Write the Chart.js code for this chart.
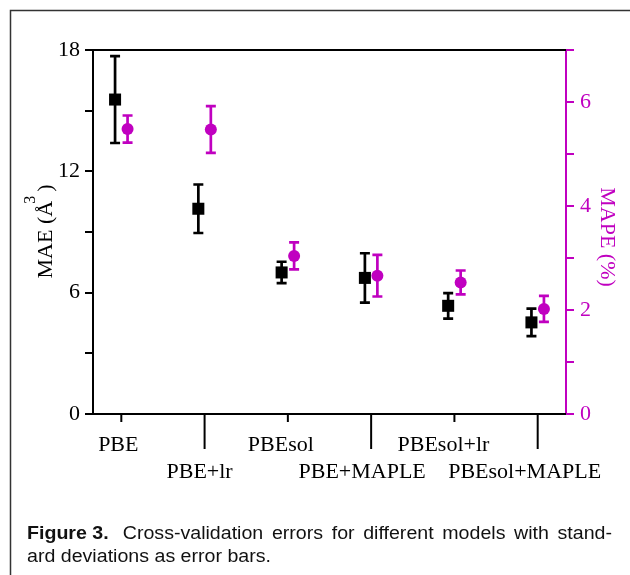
<!DOCTYPE html>
<html>
<head>
<meta charset="utf-8">
<script src="https://cdn.jsdelivr.net/npm/chart.js@4/dist/chart.umd.min.js"></script>
<style>
  html, body { margin: 0; padding: 0; background: #fff; }
  #wrap { width: 630px; height: 575px; }
</style>
</head>
<body>
<div id="wrap"><canvas id="myChart" width="630" height="575"></canvas></div>
<script>
// values
var models = ['PBE', 'PBE+lr', 'PBEsol', 'PBE+MAPLE', 'PBEsol+lr', 'PBEsol+MAPLE'];
var mae = [15.55, 10.15, 7.0, 6.73, 5.35, 4.53];
var maeSd = [2.15, 1.2, 0.53, 1.22, 0.63, 0.68];
var mape = [5.48, 5.47, 3.04, 2.66, 2.53, 2.02];
var mapeSd = [0.26, 0.45, 0.26, 0.40, 0.23, 0.25];
var maeTicks = [0, 6, 12, 18];
var mapeTicks = [0, 2, 4, 6];

var MAGENTA = 'rgb(192,0,192)';
var SERIF = '"Liberation Serif", "Times New Roman", serif';
var SANS = '"Liberation Sans", Arial, sans-serif';
var shift = 0.075; // side-by-side offset of the two series

var errorBars = {
  id: 'errorBars',
  afterDatasetDraw: function (chart, args) {
    var ds = chart.data.datasets[args.index];
    var xs = chart.scales.x, ys = chart.scales[ds.yAxisID];
    var ctx = chart.ctx;
    ctx.save();
    ctx.strokeStyle = ds.borderColor;
    ctx.lineWidth = 2.7;
    ds.data.forEach(function (p, i) {
      var x = xs.getPixelForValue(p.x);
      var top = ys.getPixelForValue(p.y + ds.err[i]);
      var bot = ys.getPixelForValue(p.y - ds.err[i]);
      ctx.beginPath();
      ctx.moveTo(x, top); ctx.lineTo(x, bot);
      ctx.moveTo(x - 5, top); ctx.lineTo(x + 5, top);
      ctx.moveTo(x - 5, bot); ctx.lineTo(x + 5, bot);
      ctx.stroke();
    });
    ctx.restore();
  }
};

// justified caption line, slightly widened glyphs like the original print
function captionLine(ctx, parts, x, y, right, sx) {
  ctx.save();
  ctx.translate(x, y);
  ctx.scale(sx, 1);
  var words = [];
  parts.forEach(function (p) {
    if (p.keep) { words.push({ w: p.text, font: p.font, lead: true }); return; }
    p.text.split(' ').forEach(function (w) { if (w) words.push({ w: w, font: p.font }); });
  });
  var total = 0;
  words.forEach(function (o) { ctx.font = o.font; o.width = ctx.measureText(o.w).width; total += o.width; });
  ctx.font = words[words.length - 1].font;
  var space = ctx.measureText(' ').width;
  var gap = space;
  if (right) {
    // the lead gets a double space, the rest share what is left
    gap = ((right - x) / sx - total - space) / (words.length - 1);
  }
  var cx = 0;
  words.forEach(function (o) {
    ctx.font = o.font;
    ctx.fillText(o.w, cx, 0);
    cx += o.width + gap + (o.lead ? space : 0);
  });
  ctx.restore();
}

var decor = {
  id: 'decor',
  beforeDraw: function (chart) {
    var ctx = chart.ctx;
    ctx.save();
    ctx.fillStyle = '#fff';
    ctx.fillRect(0, 0, chart.width, chart.height);
    // figure frame
    ctx.strokeStyle = '#333';
    ctx.lineWidth = 1.5;
    ctx.strokeRect(10.5, 10.5, 800, 800);
    ctx.restore();
  },
  afterDraw: function (chart) {
    var ctx = chart.ctx, a = chart.chartArea, xs = chart.scales.x;
    ctx.save();
    ctx.strokeStyle = '#000';
    ctx.lineWidth = 2;
    // top frame line and x axis
    ctx.beginPath();
    ctx.moveTo(a.left, a.top); ctx.lineTo(a.right, a.top);
    ctx.moveTo(a.left - 8, a.bottom); ctx.lineTo(a.right, a.bottom);
    ctx.stroke();
    // category ticks, alternating short / long, staggered labels
    ctx.font = '22px ' + SERIF;
    ctx.fillStyle = '#000';
    ctx.textAlign = 'center';
    ctx.textBaseline = 'alphabetic';
    models.forEach(function (m, i) {
      var x = xs.getPixelForValue(i + 1);
      var odd = i % 2 === 1;
      ctx.beginPath();
      ctx.moveTo(x, a.bottom);
      ctx.lineTo(x, a.bottom + (odd ? 35 : 8));
      ctx.stroke();
      ctx.fillText(m, x - 3 - 2 * i, a.bottom + (odd ? 64 : 37));
    });
    // left title: MAE (Å^3)
    ctx.save();
    ctx.translate(52, (a.top + a.bottom) / 2);
    ctx.rotate(-Math.PI / 2);
    ctx.textAlign = 'left';
    var t1 = 'MAE (Å', t2 = '3', t3 = ')';
    ctx.font = '22px ' + SERIF;
    var w1 = ctx.measureText(t1).width, w3 = ctx.measureText(t3).width;
    ctx.font = '16px ' + SERIF;
    var w2 = ctx.measureText(t2).width;
    var x0 = -(w1 + w2 + w3) / 2;
    ctx.font = '22px ' + SERIF;
    ctx.fillText(t1, x0, 0);
    ctx.font = '16px ' + SERIF;
    ctx.fillText(t2, x0 + w1 - 3, -17);
    ctx.font = '22px ' + SERIF;
    ctx.fillText(t3, x0 + w1 + w2 + 1, 0);
    ctx.restore();
    // right title
    ctx.save();
    ctx.translate(601, (a.top + a.bottom) / 2 + 5);
    ctx.rotate(Math.PI / 2);
    ctx.fillStyle = MAGENTA;
    ctx.textAlign = 'center';
    ctx.font = '22px ' + SERIF;
    ctx.fillText('MAPE (%)', 0, 0);
    ctx.restore();
    // caption
    ctx.fillStyle = '#111';
    ctx.textAlign = 'left';
    var bold = 'bold 17.5px ' + SANS, reg = '17.5px ' + SANS;
    captionLine(ctx, [
      { text: 'Figure 3.', font: bold, keep: true },
      { text: 'Cross-validation errors for different models with stand-', font: reg }
    ], 27, 539, 612, 1.12);
    captionLine(ctx, [{ text: 'ard deviations as error bars.', font: reg }], 27, 562, null, 1.12);
    ctx.restore();
  }
};

var ctx = document.getElementById('myChart').getContext('2d');
var myChart = new Chart(ctx, {
  type: 'scatter',
  data: {
    datasets: [{
      label: 'MAE',
      data: models.map(function (m, i) { return { x: i + 1 - shift, y: mae[i] }; }),
      err: maeSd,
      yAxisID: 'y',
      pointStyle: 'rect',
      pointRadius: 8.5,
      borderWidth: 0,
      backgroundColor: '#000',
      borderColor: '#000',
      order: 2
    }, {
      label: 'MAPE',
      data: models.map(function (m, i) { return { x: i + 1 + shift, y: mape[i] }; }),
      err: mapeSd,
      yAxisID: 'y1',
      pointStyle: 'circle',
      pointRadius: 6,
      borderWidth: 0,
      backgroundColor: MAGENTA,
      borderColor: MAGENTA,
      order: 1
    }]
  },
  plugins: [decor, errorBars],
  options: {
    responsive: false,
    animation: false,
    layout: { padding: { top: 50, bottom: 161, left: 0, right: 0 } },
    plugins: { legend: { display: false }, tooltip: { enabled: false } },
    scales: {
      x: { type: 'linear', min: 0.66, max: 6.34, display: false },
      y: {
        position: 'left', min: 0, max: 18,
        afterFit: function (s) { s.width = 93; },
        ticks: {
          stepSize: 3, padding: 5, color: '#000',
          font: { family: SERIF, size: 22 },
          callback: function (v) { return maeTicks.indexOf(v) >= 0 ? v : ''; }
        },
        grid: { drawOnChartArea: false, tickLength: 8, color: '#000', lineWidth: 2 },
        border: { color: '#000', width: 2 }
      },
      y1: {
        position: 'right', min: 0, max: 7,
        afterFit: function (s) { s.width = 64; },
        ticks: {
          stepSize: 1, padding: 6, color: MAGENTA,
          font: { family: SERIF, size: 22 },
          callback: function (v) { return mapeTicks.indexOf(v) >= 0 ? v : ''; }
        },
        grid: { drawOnChartArea: false, tickLength: 8, color: MAGENTA, lineWidth: 2 },
        border: { color: MAGENTA, width: 2 }
      }
    }
  }
});
</script>
</body>
</html>
